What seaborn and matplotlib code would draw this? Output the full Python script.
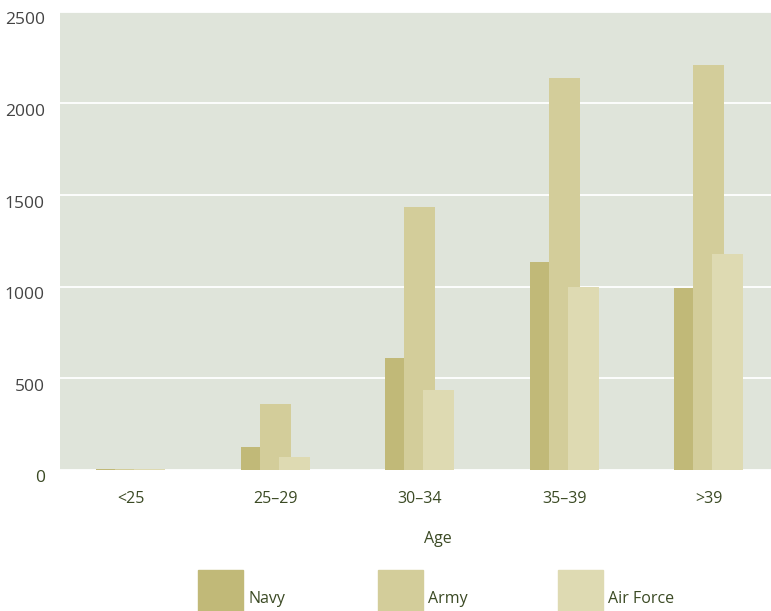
import pandas as pd
import matplotlib
matplotlib.use("Agg")
import matplotlib.pyplot as plt
import matplotlib.transforms as mtransforms
from matplotlib.patches import Rectangle
import seaborn as sns

# Data
ages = ['<25', '25–29', '30–34', '35–39', '>39']
services = ['Navy', 'Army', 'Air Force']
navy = [5, 125, 611, 1133, 995]
army = [5, 360, 1435, 2140, 2211]
air_force = [5, 71, 436, 997, 1176]
colors = ['#c1b978', '#d3cd9a', '#dedab2']

df = pd.DataFrame({
    'Age': ages * 3,
    'Service': [s for s in services for _ in ages],
    'Count': navy + army + air_force,
})

sns.set_theme(style='white')
plt.rcParams['font.family'] = ['Open Sans', 'DejaVu Sans']

W, H = 771, 611
fig = plt.figure(figsize=(W / 100, H / 100), dpi=100)
ax = fig.add_axes([60 / W, 1 - 470 / H, 1 - 60 / W, (470 - 11.7) / H])
ax.set_facecolor('#dfe4da')

sns.barplot(data=df, x='Age', y='Count', hue='Service', order=ages,
            hue_order=services, palette=colors, width=0.393, dodge=True,
            saturation=1, legend=False, errorbar=None, ax=ax, zorder=3)

# widen bars so they overlap like the original
bw = 0.215
for p in ax.patches:
    c = p.get_x() + p.get_width() / 2
    p.set_x(c - bw / 2)
    p.set_width(bw)
    p.set_edgecolor('none')

ax.set_xlim(-0.49, 4.43)
ax.set_ylim(0, 2500)
ax.set_yticks([0, 500, 1000, 1500, 2000, 2500])
ax.yaxis.grid(True, color='white', linewidth=1.3, zorder=0)
ax.set_axisbelow(True)
for s in ax.spines.values():
    s.set_visible(False)

ax.tick_params(axis='both', length=0)
ax.tick_params(axis='y', pad=11, labelsize=12.5, labelcolor='#444444')
ax.tick_params(axis='x', pad=15, labelsize=11.5, labelcolor='#3b4a24')

# y labels sit a little below their gridlines in the original
shift = mtransforms.ScaledTranslation(0, -6.5 / 100, fig.dpi_scale_trans)
for lab in ax.get_yticklabels():
    lab.set_transform(lab.get_transform() + shift)
ax.get_yticklabels()[0].set_color('#3b4a24')

ax.set_ylabel('')
ax.set_xlabel('Age', fontsize=11.5, color='#3b4a24')
ax.xaxis.set_label_coords((438 - 60) / 711, (470 - 531) / 458.3)

# legend built by hand: large square swatches with labels at the bottom
for i, (name, col) in enumerate(zip(services, colors)):
    x0 = 198 + i * 180
    fig.add_artist(Rectangle((x0 / W, 1 - 615 / H), 45 / W, 45 / H,
                             transform=fig.transFigure, color=col))
    fig.text((x0 + 50) / W, 1 - 599 / H, name, fontsize=11.5,
             color='#3b4a24', va='center', ha='left')

fig.savefig('out.png', dpi=100)
